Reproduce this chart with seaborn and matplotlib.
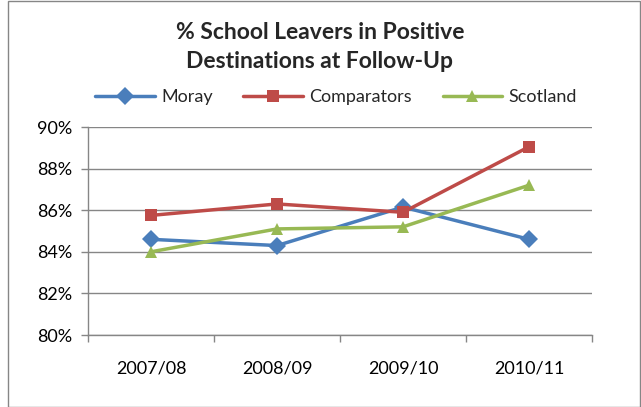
import pandas as pd
import matplotlib.pyplot as plt
import seaborn as sns
from matplotlib.patches import Rectangle
from matplotlib.ticker import PercentFormatter, FixedLocator

# data
years = ['2007/08', '2008/09', '2009/10', '2010/11']
moray = [84.6, 84.3, 86.15, 84.6]
comparators = [85.75, 86.3, 85.9, 89.05]
scotland = [84.0, 85.1, 85.2, 87.2]

series = ['Moray', 'Comparators', 'Scotland']
colors = ['#4A7EBB', '#BE4B48', '#98B954']
markers = ['D', 's', '^']

df = pd.DataFrame({'Year': years * 3,
                   'Value': moray + comparators + scotland,
                   'Series': [s for s in series for _ in years]})
df['x'] = df['Year'].map({y: i for i, y in enumerate(years)})

sns.set_theme(style='white')
plt.rcParams['font.family'] = ['Lato', 'DejaVu Sans']

fig = plt.figure(figsize=(6.41, 4.07), dpi=100)
ax = fig.add_axes([88 / 641, 1 - 335 / 407, (592 - 88) / 641, (335 - 127) / 407])

sns.lineplot(data=df, x='x', y='Value', hue='Series', style='Series',
             hue_order=series, style_order=series,
             palette=colors, markers=markers, dashes=False,
             markersize=9, markeredgewidth=0, linewidth=2.5, ax=ax)

ax.set_xlim(-0.5, 3.5)
ax.set_ylim(80, 90)
ax.set_yticks(range(80, 91, 2))
ax.yaxis.set_major_formatter(PercentFormatter(decimals=0))
ax.set_xticks(range(4))
ax.set_xticklabels(years)
ax.xaxis.set_minor_locator(FixedLocator([-0.5, 0.5, 1.5, 2.5, 3.5]))
ax.tick_params(axis='x', which='major', length=0, pad=18, labelsize=13, colors='black')
ax.tick_params(axis='x', which='minor', length=5, width=1, color='#868686', bottom=True, direction='out')
ax.tick_params(axis='y', length=5, width=1, color='#868686', left=True, labelsize=13, pad=6, labelcolor='black')
ax.set_xlabel('')
ax.set_ylabel('')
ax.grid(axis='y', color='#868686', linewidth=1)
ax.set_axisbelow(True)
for side in ['top', 'right']:
    ax.spines[side].set_visible(False)
for side in ['left', 'bottom']:
    ax.spines[side].set_color('#868686')
    ax.spines[side].set_linewidth(1)

handles, labels = ax.get_legend_handles_labels()
ax.legend(handles, labels, loc='center', bbox_to_anchor=(336 / 641, 1 - 97 / 407),
          bbox_transform=fig.transFigure, ncol=3, frameon=False, fontsize=13,
          handlelength=3.3, columnspacing=1.7, handletextpad=0.35, borderaxespad=0)

fig.text(320 / 641, 1 - 47 / 407, '% School Leavers in Positive\nDestinations at Follow-Up',
         ha='center', va='center', fontsize=16.5, fontweight='bold', linespacing=1.45)

fig.patches.append(Rectangle((8 / 641, 0), 1 - 8 / 641 - 1 / 641, 1 - 1 / 407, transform=fig.transFigure,
                             fill=False, edgecolor='#868686', linewidth=1))

fig.savefig('out.png', dpi=100)
